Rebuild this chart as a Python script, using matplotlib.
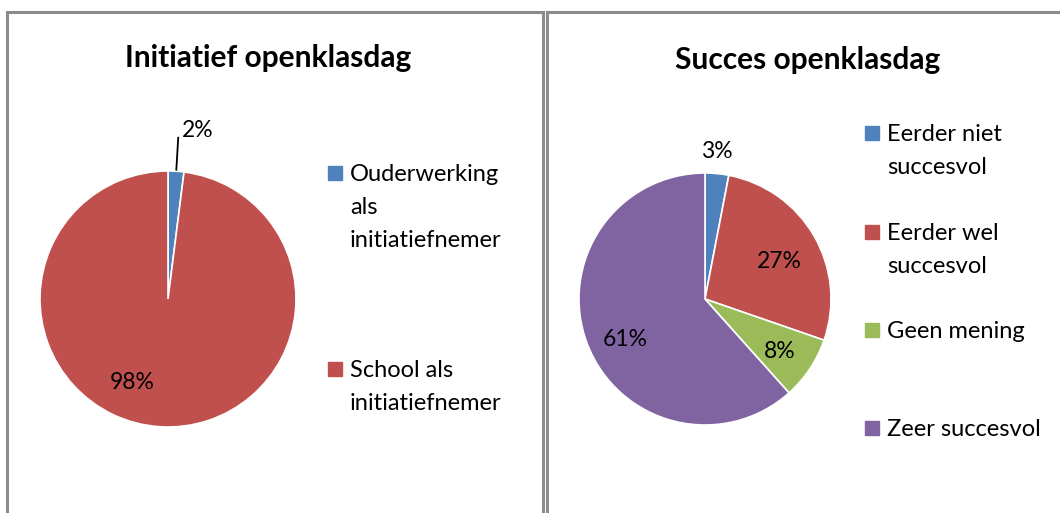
import matplotlib
matplotlib.use('Agg')
import matplotlib.pyplot as plt
from matplotlib.lines import Line2D
from matplotlib.patches import Rectangle

plt.rcParams['font.family'] = ['Lato', 'DejaVu Sans']

W, H = 1060, 513

# data
titles = ['Initiatief openklasdag', 'Succes openklasdag']
labels1 = ['Ouderwerking\nals\ninitiatiefnemer', 'School als\ninitiatiefnemer']
values1 = [2, 98]
labels2 = ['Eerder niet\nsuccesvol', 'Eerder wel\nsuccesvol', 'Geen mening', 'Zeer succesvol']
values2 = [3, 27, 8, 61]
colors = ['#4F81BD', '#C0504D', '#9BBB59', '#8064A2']


def fx(x):
    return x / W


def fy(y):
    return 1 - y / H


fig = plt.figure(figsize=(W / 100, H / 100), dpi=100)

# panel borders
gray = '#8c8c8c'
for xs, ys in [([7, 7], [513, 12]), ([7, 543], [12, 12]), ([543, 543], [12, 513]),
               ([547, 547], [513, 12]), ([547, 1060], [12, 12])]:
    fig.add_artist(Line2D([fx(v) for v in xs], [fy(v) for v in ys], color=gray, lw=2.2))


def pie(cx, cy, r, values):
    ax = fig.add_axes([fx(cx - r), fy(cy + r), (2 * r) / W, (2 * r) / H])
    wedges, _ = ax.pie(values, colors=colors[:len(values)], startangle=90, counterclock=False,
                       wedgeprops=dict(edgecolor='white', linewidth=1.2))
    ax.set_xlim(-1, 1)
    ax.set_ylim(-1, 1)
    ax.set_aspect('equal')
    ax.axis('off')
    return ax


def pct(ax, v, xy, **kw):
    ax.text(xy[0], xy[1], '%d%%' % v, ha='center', va='center', fontsize=16.5, **kw)


ax1 = pie(168, 299, 128, values1)
ax1.plot([0.065, 0.08], [1.01, 1.26], color='black', lw=1.3, clip_on=False)
pct(ax1, values1[0], (0.23, 1.32))
pct(ax1, values1[1], (-0.28, -0.65))

ax2 = pie(705, 299, 126, values2)
pct(ax2, values2[0], (0.09, 1.17))
pct(ax2, values2[1], (0.59, 0.30))
pct(ax2, values2[2], (0.59, -0.42))
pct(ax2, values2[3], (-0.63, -0.32))

fig.text(fx(268), fy(58), titles[0], ha='center', va='center', fontsize=21.5, fontweight='bold')
fig.text(fx(808), fy(60), titles[1], ha='center', va='center', fontsize=21.5, fontweight='bold')

# legends
def legend_entry(sx, tx, y, label, color):
    fig.add_artist(Rectangle((fx(sx), fy(y + 7)), 14 / W, 14 / H, color=color,
                             transform=fig.transFigure))
    fig.text(fx(tx), fy(y - 9), label, ha='left', va='top', fontsize=17, linespacing=1.72)


for y, lab, c in zip([173, 369], labels1, colors):
    legend_entry(328, 350, y, lab, c)

for y, lab, c in zip([133, 232, 330, 428], labels2, colors):
    legend_entry(865, 887, y, lab, c)

fig.savefig('out.png', dpi=100)
